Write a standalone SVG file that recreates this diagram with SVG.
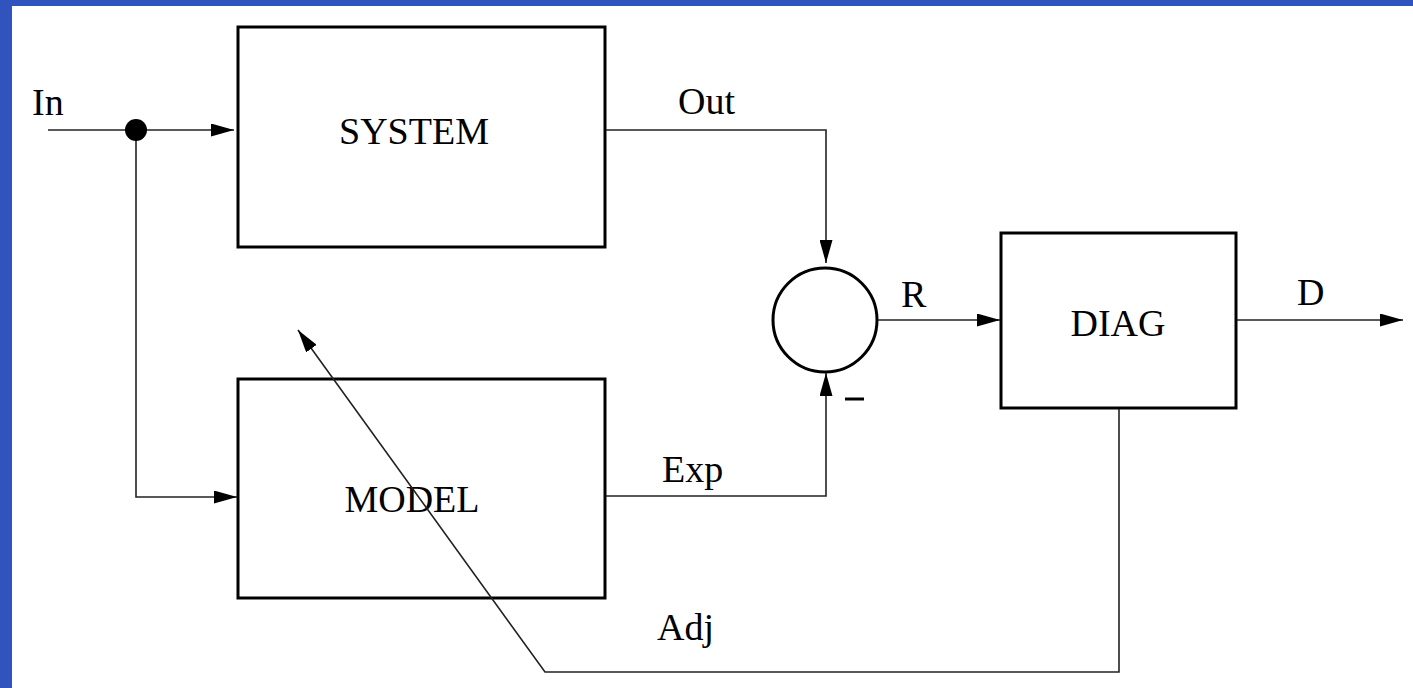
<svg xmlns="http://www.w3.org/2000/svg" width="1413" height="688" viewBox="0 0 1413 688">
<style>
.box{fill:#fff;stroke:#000;stroke-width:3}
.ln{fill:none;stroke:#222;stroke-width:1.6}
.t{font-family:"Liberation Serif","Times New Roman",serif;font-size:38px;fill:#000}
</style>
<defs>
<marker id="ah" markerUnits="userSpaceOnUse" markerWidth="23" markerHeight="13" refX="23" refY="6.5" orient="auto" viewBox="0 0 23 13">
<path d="M0,0 L23,6.5 L0,13 z" fill="#000"/>
</marker>
</defs>
<rect x="0" y="0" width="1413" height="688" fill="#fff"/>
<rect x="0" y="0" width="1413" height="6" fill="#3053bd"/>
<rect x="0" y="0" width="12" height="688" fill="#3053bd"/>
<g id="system">
<rect class="box" x="238" y="27" width="367" height="220"/>
<text class="t" x="414" y="144" text-anchor="middle">SYSTEM</text>
</g>
<g id="model">
<rect class="box" x="238" y="379" width="367" height="219"/>
<text class="t" x="412" y="512" text-anchor="middle">MODEL</text>
</g>
<g id="sum">
<circle cx="825" cy="320" r="52" fill="#fff" stroke="#000" stroke-width="3"/>
</g>
<g id="diag">
<rect class="box" x="1001" y="233" width="235" height="175"/>
<text class="t" x="1118" y="336" text-anchor="middle">DIAG</text>
</g>
<g id="connectors">
<path class="ln" d="M48,130 L234,130" marker-end="url(#ah)"/>
<path class="ln" d="M136,130 L136,497 L237,497" marker-end="url(#ah)"/>
<path class="ln" d="M606,130 L826,130 L826,263" marker-end="url(#ah)"/>
<path class="ln" d="M606,496 L826,496 L826,373" marker-end="url(#ah)"/>
<path class="ln" d="M878,320 L1000,320" marker-end="url(#ah)"/>
<path class="ln" d="M1237,320 L1403,320" marker-end="url(#ah)"/>
<path class="ln" d="M1119,409 L1119,672 L545,672 L298,330" marker-end="url(#ah)"/>
<circle cx="136" cy="130" r="11" fill="#000"/>
<text class="t" x="32" y="115">In</text>
<text class="t" x="678" y="114">Out</text>
<text class="t" x="662" y="482">Exp</text>
<text class="t" x="901" y="307">R</text>
<text class="t" x="1297" y="305">D</text>
<text class="t" x="657" y="640">Adj</text>
<line x1="845" y1="399" x2="864" y2="399" stroke="#000" stroke-width="3"/>
</g>
</svg>
